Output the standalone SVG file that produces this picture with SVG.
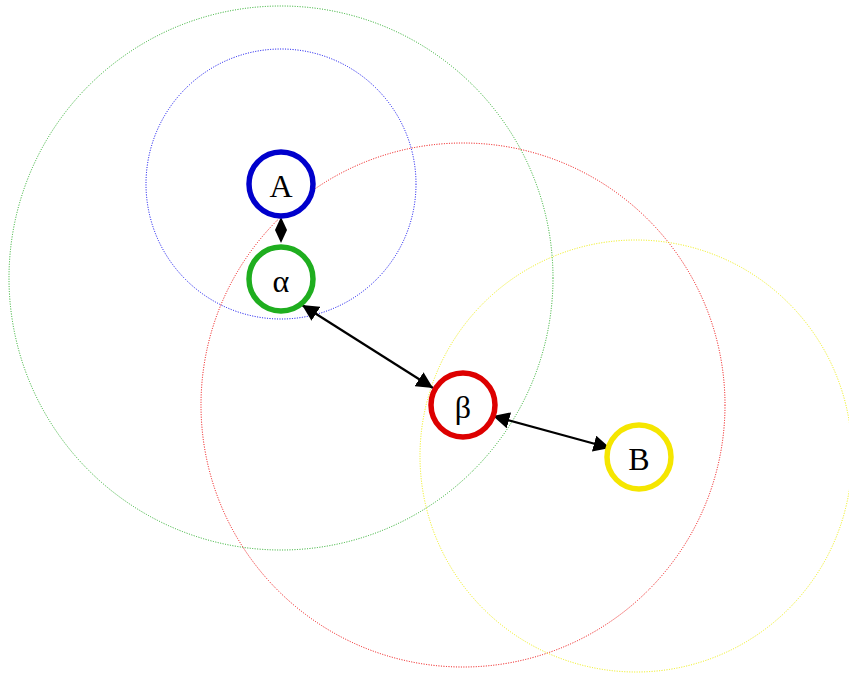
<svg xmlns="http://www.w3.org/2000/svg" width="849" height="674" viewBox="0 0 849 674">
  <style>
    .range { fill: none; stroke-width: 1; stroke-dasharray: 1 1.5; }
    .node circle { fill: #ffffff; stroke-width: 5.5; }
    .node text { font-family: "Liberation Serif", "DejaVu Serif", serif; font-size: 32px; text-anchor: middle; fill: #000000; }
    .edge { stroke: #000000; stroke-width: 2.2; fill: none; }
  </style>
  <defs>
    <marker id="arrow" viewBox="0 0 10 10" refX="10" refY="5" markerWidth="7.5" markerHeight="7.5" orient="auto-start-reverse" markerUnits="strokeWidth">
      <path d="M0,0 L10,5 L0,10 z" fill="#000000"/>
    </marker>
  </defs>

  <!-- dotted range circles -->
  <g id="ranges">
    <circle class="range" cx="281" cy="278" r="272" stroke="#22aa22"/>
    <circle class="range" cx="281" cy="184" r="135" stroke="#0000ee"/>
    <circle class="range" cx="463" cy="405" r="262" stroke="#ee0000"/>
    <circle class="range" cx="636" cy="456" r="216" stroke="#eeee00"/>
  </g>

  <!-- connectors -->
  <g id="edges">
    <polygon points="281,217 287,230 281,243 275,230" fill="#000000"/>
    <line class="edge" x1="302" y1="305" x2="433" y2="388" marker-start="url(#arrow)" marker-end="url(#arrow)"/>
    <line class="edge" x1="493" y1="416" x2="610" y2="448" marker-start="url(#arrow)" marker-end="url(#arrow)"/>
  </g>

  <g id="node-A" class="node">
    <circle cx="281" cy="184" r="32" stroke="#0000cc"/>
    <text x="281" y="197">A</text>
  </g>
  <g id="node-alpha" class="node">
    <circle cx="281" cy="279" r="32" stroke="#1fae1f"/>
    <text x="281" y="292">α</text>
  </g>
  <g id="node-beta" class="node">
    <circle cx="463" cy="405" r="32" stroke="#dd0000"/>
    <text x="463" y="418">β</text>
  </g>
  <g id="node-B" class="node">
    <circle cx="639" cy="457" r="32" stroke="#f5e600"/>
    <text x="639" y="470">B</text>
  </g>
</svg>
